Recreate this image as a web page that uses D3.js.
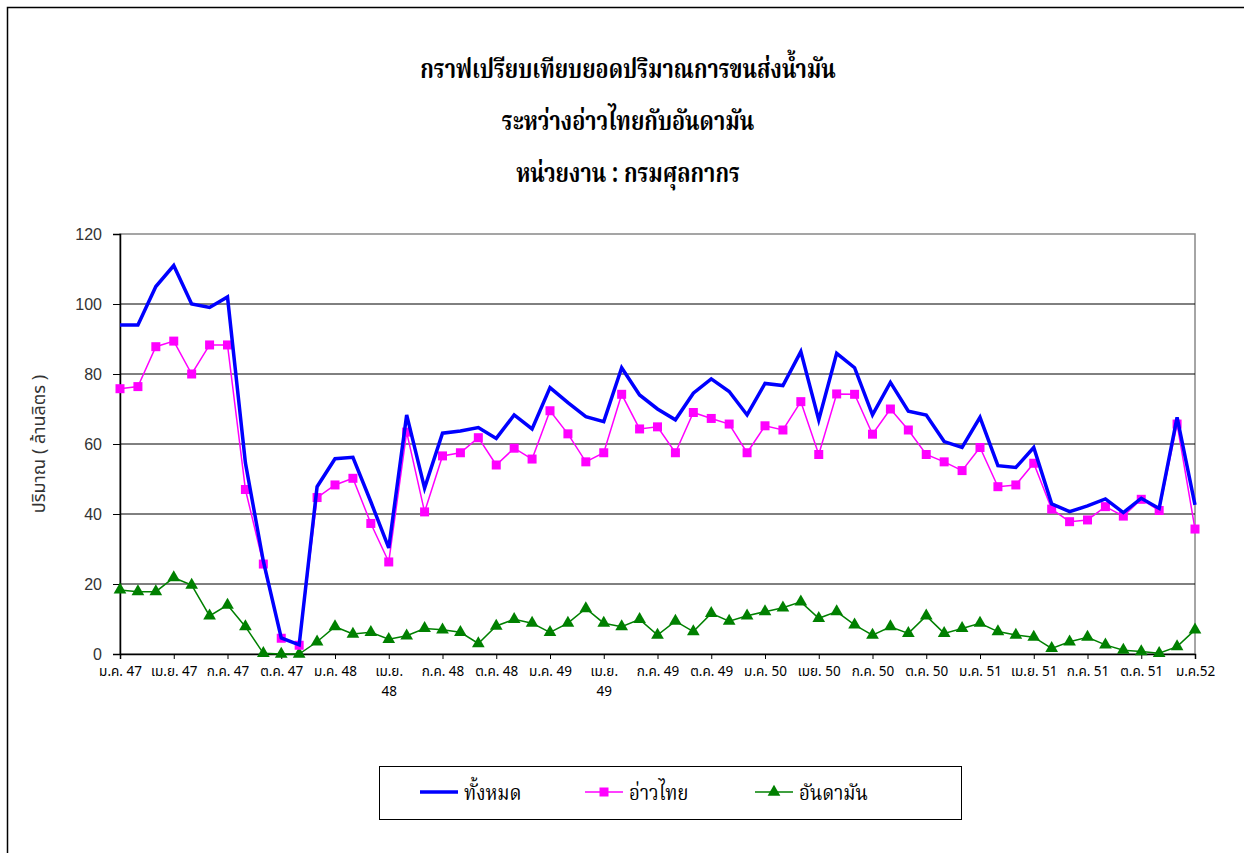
<!DOCTYPE html>
<html>
<head>
<meta charset="UTF-8" />
<title>กราฟเปรียบเทียบยอดปริมาณการขนส่งน้ำมัน</title>
<script src="https://cdn.jsdelivr.net/npm/d3@7"></script>
<style>
  body { margin: 0; background: #fff; }
  svg { display: block; }
  .title { font-family: "Noto Serif Thai", "Noto Sans Thai", serif; font-weight: bold; font-size: 27px; fill: #000; }
  .tick text { font-family: Tahoma, "Noto Sans Thai", "Noto Sans", sans-serif; }
</style>
</head>
<body>
<div id="chart"></div>
<script>
// monthly values, ม.ค. 47 .. ม.ค. 52 (ล้านลิตร)
const total = [94, 94, 105, 111, 100, 99, 102, 54.6, 26.5, 4.6, 2.6,
  47.8, 55.8, 56.2, 43.5, 30.3, 68.3, 47.4, 63.1, 63.7, 64.7,
  61.6, 68.3, 64.3, 76.1, 71.8, 67.8, 66.4, 81.8, 74, 70,
  66.9, 74.5, 78.6, 75, 68.3, 77.3, 76.7, 86.4, 66.9, 85.9,
  81.8, 68.3, 77.6, 69.4, 68.3, 60.7, 59, 67.6, 53.8, 53.3,
  59, 42.9, 40.7, 42.3, 44.3, 40.4, 44.5, 41.6, 67.6, 42.6];
const gulf = [75.8, 76.4, 87.8, 89.4, 80, 88.3, 88.3, 47, 25.7, 4.5, 2.5,
  44.7, 48.3, 50.2, 37.3, 26.3, 63.4, 40.6, 56.6, 57.5, 61.8,
  54, 58.8, 55.7, 69.5, 62.9, 54.9, 57.5, 74.2, 64.3, 64.9,
  57.5, 69, 67.3, 65.7, 57.5, 65.2, 64, 72.1, 57, 74.3,
  74.2, 62.8, 70, 64, 57, 54.9, 52.4, 59, 47.8, 48.3,
  54.5, 41.4, 37.8, 38.3, 42.1, 39.4, 44.2, 41, 65.7, 35.7];
const andaman = [18.3, 17.8, 17.8, 21.8, 19.7, 10.9, 14, 7.8, 0.2, 0, 0,
  3.5, 7.8, 5.7, 6.2, 4.2, 5.2, 7.3, 6.9, 6.2, 3.0,
  8, 9.9, 8.8, 6.2, 8.8, 13, 8.8, 7.8, 9.9, 5.4,
  9.4, 6.4, 11.6, 9.4, 10.9, 12.1, 13.2, 14.9, 10.2, 12.1,
  8.3, 5.4, 7.8, 5.9, 10.9, 5.9, 7.3, 8.8, 6.4, 5.4,
  4.8, 1.6, 3.5, 4.8, 2.6, 1.1, 0.7, 0.2, 2.1, 6.9];
// one label every 3 months, "|" = line break
const tickLabels = ["ม.ค. 47", "เม.ย. 47", "ก.ค. 47", "ต.ค. 47", "ม.ค. 48", "เม.ย.|48", "ก.ค. 48", "ต.ค. 48",
  "ม.ค. 49", "เม.ย.|49", "ก.ค. 49", "ต.ค. 49", "ม.ค. 50", "เมย. 50", "ก.ค. 50", "ต.ค. 50",
  "ม.ค. 51", "เม.ย. 51", "ก.ค. 51", "ต.ค. 51", "ม.ค.52"];
const yTicks = [0, 20, 40, 60, 80, 100, 120];
const seriesNames = ["ทั้งหมด", "อ่าวไทย", "อันดามัน"];
const titleLines = ["กราฟเปรียบเทียบยอดปริมาณการขนส่งน้ำมัน", "ระหว่างอ่าวไทยกับอันดามัน", "หน่วยงาน : กรมศุลกากร"];

const w = 1244, h = 853;
const mLeft = 120, mRight = 1195, mTop = 234, mBottom = 654;

const svg = d3.select('#chart').append('svg')
  .attr('width', w)
  .attr('height', h);

// outer frame (runs off the page on the right and bottom)
svg.append('rect')
  .attr('x', 7.5).attr('y', 7.5)
  .attr('width', w + 20).attr('height', h + 20)
  .attr('fill', 'none').attr('stroke', '#000').attr('stroke-width', 1.5);

// title, squeezed sideways to look like the narrow Thai serif of the original
svg.selectAll('text.title')
  .data(titleLines)
  .enter()
  .append('text')
  .attr('class', 'title')
  .attr('transform', (d, i) => 'translate(628,' + (78 + i * 52) + ') scale(0.8,1)')
  .attr('text-anchor', 'middle')
  .text(d => d);

const x = d3.scaleLinear().domain([0, total.length - 1]).range([mLeft, mRight]);
const y = d3.scaleLinear().domain([0, 120]).range([mBottom, mTop]);

// plot border (gray) and gridlines
svg.append('rect')
  .attr('x', mLeft).attr('y', mTop)
  .attr('width', mRight - mLeft).attr('height', mBottom - mTop)
  .attr('fill', 'none').attr('stroke', '#888').attr('stroke-width', 1.5);

svg.append('g')
  .selectAll('line')
  .data(yTicks.filter(d => d > 0 && d < 120))
  .enter()
  .append('line')
  .attr('x1', mLeft).attr('x2', mRight)
  .attr('y1', d => y(d)).attr('y2', d => y(d))
  .attr('stroke', '#000').attr('stroke-width', 1);

const yAxis = d3.axisLeft(y).tickValues(yTicks).tickSize(7).tickPadding(11);
const gy = svg.append('g')
  .attr('transform', 'translate(' + mLeft + ',0)')
  .call(yAxis);
gy.selectAll('text')
  .style('font-family', '"Liberation Sans", Arial, sans-serif')
  .style('font-size', '16px')
  .attr('fill', '#333');

const xAxis = d3.axisBottom(x)
  .tickValues(d3.range(0, total.length, 3))
  .tickSize(5)
  .tickPadding(7)
  .tickFormat((d, i) => tickLabels[i]);
const gx = svg.append('g')
  .attr('transform', 'translate(0,' + mBottom + ')')
  .call(xAxis);
gx.selectAll('text')
  .style('font-size', '13.5px')
  .attr('fill', '#000')
  .each(function (d, i) {
    const parts = tickLabels[i].split('|');
    if (parts.length > 1) {
      const t = d3.select(this).text('');
      parts.forEach((p, k) => {
        t.append('tspan').attr('x', 0).attr('dy', k === 0 ? '0.71em' : '1.5em').text(p);
      });
    }
  });
[gx, gy].forEach(g => {
  g.select('.domain').attr('stroke', '#000').attr('stroke-width', 1.5);
  g.selectAll('.tick line').attr('stroke', '#000');
});

svg.append('text')
  .attr('transform', 'translate(45,' + ((mTop + mBottom) / 2) + ') rotate(-90)')
  .attr('text-anchor', 'middle')
  .style('font-family', 'Tahoma, "Noto Sans Thai", sans-serif')
  .style('font-size', '18px')
  .attr('fill', '#333')
  .text('ปริมาณ ( ล้านลิตร )');

const line = d3.line().x((d, i) => x(i)).y(d => y(d));

svg.append('path').datum(andaman)
  .attr('d', line).attr('fill', 'none')
  .attr('stroke', '#008000').attr('stroke-width', 1.5);
svg.append('g').selectAll('path')
  .data(andaman).enter().append('path')
  .attr('d', d3.symbol(d3.symbolTriangle, 70))
  .attr('transform', (d, i) => 'translate(' + x(i) + ',' + y(d) + ')')
  .attr('fill', '#008000');

svg.append('path').datum(gulf)
  .attr('d', line).attr('fill', 'none')
  .attr('stroke', '#ff00ff').attr('stroke-width', 1.5);
svg.append('g').selectAll('rect')
  .data(gulf).enter().append('rect')
  .attr('x', (d, i) => x(i) - 4.5).attr('y', d => y(d) - 4.5)
  .attr('width', 9).attr('height', 9)
  .attr('fill', '#ff00ff');

svg.append('path').datum(total)
  .attr('d', line).attr('fill', 'none')
  .attr('stroke', '#0000ff').attr('stroke-width', 3.5)
  .attr('stroke-linejoin', 'miter');

// legend
const lg = svg.append('g');
lg.append('rect')
  .attr('x', 379.5).attr('y', 766.5)
  .attr('width', 582).attr('height', 53)
  .attr('fill', '#fff').attr('stroke', '#000').attr('stroke-width', 1);
const legendX = [420, 585, 755];
const legendColor = ['#0000ff', '#ff00ff', '#008000'];
seriesNames.forEach((name, i) => {
  const lx = legendX[i], ly = 792;
  lg.append('line')
    .attr('x1', lx).attr('x2', lx + 38).attr('y1', ly).attr('y2', ly)
    .attr('stroke', legendColor[i]).attr('stroke-width', i === 0 ? 3.5 : 1.5);
  if (i === 1) {
    lg.append('rect').attr('x', lx + 14.5).attr('y', ly - 4.5).attr('width', 9).attr('height', 9).attr('fill', legendColor[i]);
  } else if (i === 2) {
    lg.append('path').attr('d', d3.symbol(d3.symbolTriangle, 70))
      .attr('transform', 'translate(' + (lx + 19) + ',' + ly + ')').attr('fill', legendColor[i]);
  }
  lg.append('text')
    .attr('transform', 'translate(' + (lx + 44) + ',' + (ly + 8) + ') scale(0.85,1)')
    .style('font-family', '"Noto Serif Thai", "Noto Sans Thai", serif')
    .style('font-size', '22px')
    .attr('fill', '#000')
    .text(name);
});
</script>
</body>
</html>
